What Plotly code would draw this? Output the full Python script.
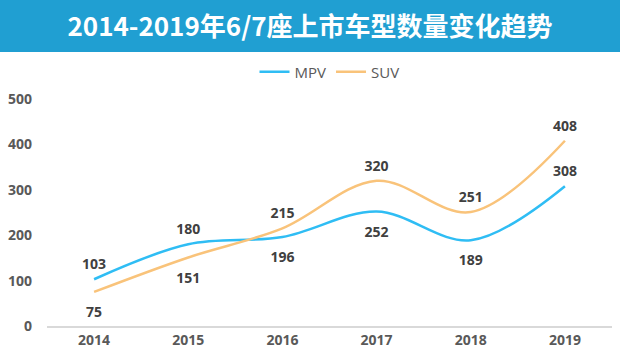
import plotly.graph_objects as go

years = ["2014", "2015", "2016", "2017", "2018", "2019"]
mpv = [103, 180, 196, 252, 189, 308]
suv = [75, 151, 215, 320, 251, 408]
mpv_pos = ["top center", "top center", "bottom center", "bottom center", "bottom center", "top center"]
suv_pos = ["bottom center", "bottom center", "top center", "top center", "top center", "top center"]
y_ticks = [0, 100, 200, 300, 400, 500]

W, H = 620, 360
ML, MR, MT, MB = 47, 8, 99, 34
pw = W - ML - MR
ph = H - MT - MB
GAP_TOP, GAP_BOTTOM = 9, 22  # invisible marker sizes controlling label distance


def px_x(p):
    return (p - ML) / pw


def px_y(p):
    return (H - MB - p) / ph


def gaps(positions):
    return [GAP_TOP if p.startswith("top") else GAP_BOTTOM for p in positions]


num_font = dict(family="'Open Sans', sans-serif", size=14, color="#404040", weight="bold")
tick_font = dict(family="'Open Sans', sans-serif", size=14, color="#595959", weight="bold")

fig = go.Figure()
fig.add_trace(go.Scatter(
    x=years, y=mpv, name="MPV", mode="lines+markers+text",
    line=dict(color="#2fbdf4", width=2.5, shape="spline", smoothing=1.0),
    marker=dict(size=gaps(mpv_pos), color="rgba(0,0,0,0)", opacity=0,
                line=dict(width=0, color="rgba(0,0,0,0)")),
    text=[str(v) for v in mpv], textposition=mpv_pos, textfont=num_font,
))
fig.add_trace(go.Scatter(
    x=years, y=suv, name="SUV", mode="lines+markers+text",
    line=dict(color="#f9c37a", width=2.5, shape="spline", smoothing=1.0),
    marker=dict(size=gaps(suv_pos), color="rgba(0,0,0,0)", opacity=0,
                line=dict(width=0, color="rgba(0,0,0,0)")),
    text=[str(v) for v in suv], textposition=suv_pos, textfont=num_font,
))

fig.add_shape(type="rect", xref="paper", yref="paper",
              x0=px_x(0), x1=px_x(W), y0=px_y(52), y1=px_y(0),
              fillcolor="#209fd2", line=dict(width=0), layer="below")

fig.update_layout(
    width=W, height=H,
    margin=dict(l=ML, r=MR, t=MT, b=MB, autoexpand=False),
    paper_bgcolor="white", plot_bgcolor="white",
    title=dict(text="<b>2014-2019年6/7座上市车型数量变化趋势</b>",
               x=0.5, xanchor="center", y=1 - 27 / H, yanchor="middle", yref="container",
               font=dict(family="'Noto Sans CJK SC', sans-serif", size=26, color="white")),
    legend=dict(orientation="h", x=0.5, xanchor="center", y=1 - 72 / H, yanchor="middle",
                yref="container",
                font=dict(family="'Open Sans', sans-serif", size=15, color="#595959"),
                itemwidth=30, bgcolor="rgba(0,0,0,0)"),
    xaxis=dict(type="category", range=[-0.5, 5.5], showgrid=False, automargin=False,
               showline=True, linecolor="#d9d9d9", linewidth=1.5, ticks="",
               tickfont=tick_font),
    yaxis=dict(range=[0, 500], tickvals=y_ticks, showgrid=False, zeroline=False,
               showline=False, ticks="", ticklabelstandoff=14, automargin=False,
               tickfont=tick_font),
    hovermode=False,
)

fig.write_html("out.html", config={"displayModeBar": False},
               post_script="document.body.style.margin='0';document.body.style.overflow='hidden';")
